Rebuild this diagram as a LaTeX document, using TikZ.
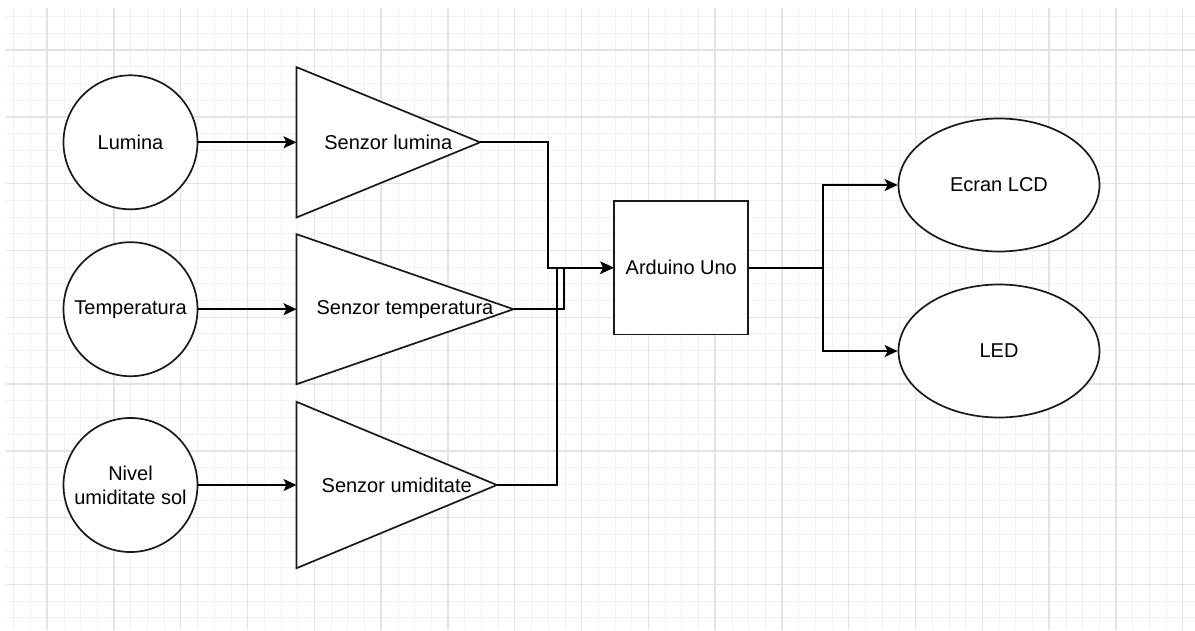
\documentclass[tikz,border=0pt]{standalone}
\usepackage{fontspec}
\setmainfont{Liberation Sans}
\usetikzlibrary{arrows.meta,shapes.geometric}
\pgfdeclarelayer{gridlayer}
\pgfdeclarelayer{shapelayer}
\pgfsetlayers{gridlayer,shapelayer,main}
\begin{document}
\begin{tikzpicture}[x=1pt,y=-1pt,
  minorgrid/.style={draw=black!5, line width=1pt},
  majorgrid/.style={draw=black!11, line width=1.4pt},
  outline/.style={draw=black!90, line width=1.7pt, fill=white},
  txt/.style={font=\fontsize{20}{24}\selectfont, text=black},
  source/.style={outline, txt, circle, minimum size=134pt, inner sep=0pt, align=center},
  sensorbox/.style={txt, rectangle, inner sep=0pt},
  boardbox/.style={outline, txt, rectangle, minimum width=134pt, minimum height=133.3pt, inner sep=0pt},
  outbox/.style={outline, txt, ellipse, minimum width=201pt, minimum height=133pt, inner sep=0pt},
  wire/.style={draw=black, line width=1.7pt},
  arr/.style={wire, -{Stealth[length=13pt,width=12pt,inset=3pt]}}
]
\useasboundingbox (0,0) rectangle (1195,630);
\begin{pgfonlayer}{gridlayer}
  \fill[white] (0,0) rectangle (1195,630);
  \foreach \i in {0,...,70} {
    \pgfmathsetmacro\xx{13.9+16.7*\i}
    \draw[minorgrid] (\xx,8) -- (\xx,630);
  }
  \foreach \i in {0,...,36} {
    \pgfmathsetmacro\yy{16.6+16.7*\i}
    \draw[minorgrid] (6,\yy) -- (1195,\yy);
  }
  \foreach \i in {0,...,17} {
    \pgfmathsetmacro\xx{47+66.8*\i}
    \draw[majorgrid] (\xx,8) -- (\xx,630);
  }
  \foreach \i in {0,...,8} {
    \pgfmathsetmacro\yy{50+66.8*\i}
    \draw[majorgrid] (6,\yy) -- (1195,\yy);
  }
\end{pgfonlayer}

% sources
\node[source] (L1) at (130.5,142.3) {Lumina};
\node[source] (L2) at (130.5,309.2) {Temperatura};
\node[source] (L3) at (130.5,485) {Nivel\\umiditate sol};

% sensors (triangles drawn from the box anchors)
\node[sensorbox, minimum width=183.3pt, minimum height=150pt] (S1) at (388.3,142.3) {Senzor lumina};
\node[sensorbox, minimum width=216.6pt, minimum height=149.7pt] (S2) at (405,309.2) {Senzor temperatura};
\node[sensorbox, minimum width=200pt, minimum height=166pt] (S3) at (396.7,485) {Senzor umiditate};
\begin{pgfonlayer}{shapelayer}
  \draw[outline] (S1.north west) -- (S1.east) -- (S1.south west) -- cycle;
  \draw[outline] (S2.north west) -- (S2.east) -- (S2.south west) -- cycle;
  \draw[outline] (S3.north west) -- (S3.east) -- (S3.south west) -- cycle;
\end{pgfonlayer}

% board and outputs
\node[boardbox] (A) at (681.3,267.7) {Arduino Uno};
\node[outbox] (E1) at (999,185) {Ecran LCD};
\node[outbox] (E2) at (999,351) {LED};

% junction points
\coordinate (m1) at (548.3,267.7);
\coordinate (m2) at (564.3,267.7);
\coordinate (m3) at (556.7,267.7);
\coordinate (d) at (823.3,267.7);

% connectors
\draw[arr] (L1.east) -- (S1.west);
\draw[arr] (L2.east) -- (S2.west);
\draw[arr] (L3.east) -- (S3.west);
\draw[arr] (S1.east) -| (m1) -- (A.west);
\draw[arr] (S2.east) -| (m2) -- (A.west);
\draw[arr] (S3.east) -| (m3) -- (A.west);
\draw[wire] (A.east) -- (d);
\draw[arr] (d) |- (E1.west);
\draw[arr] (d) |- (E2.west);
\end{tikzpicture}
\end{document}
